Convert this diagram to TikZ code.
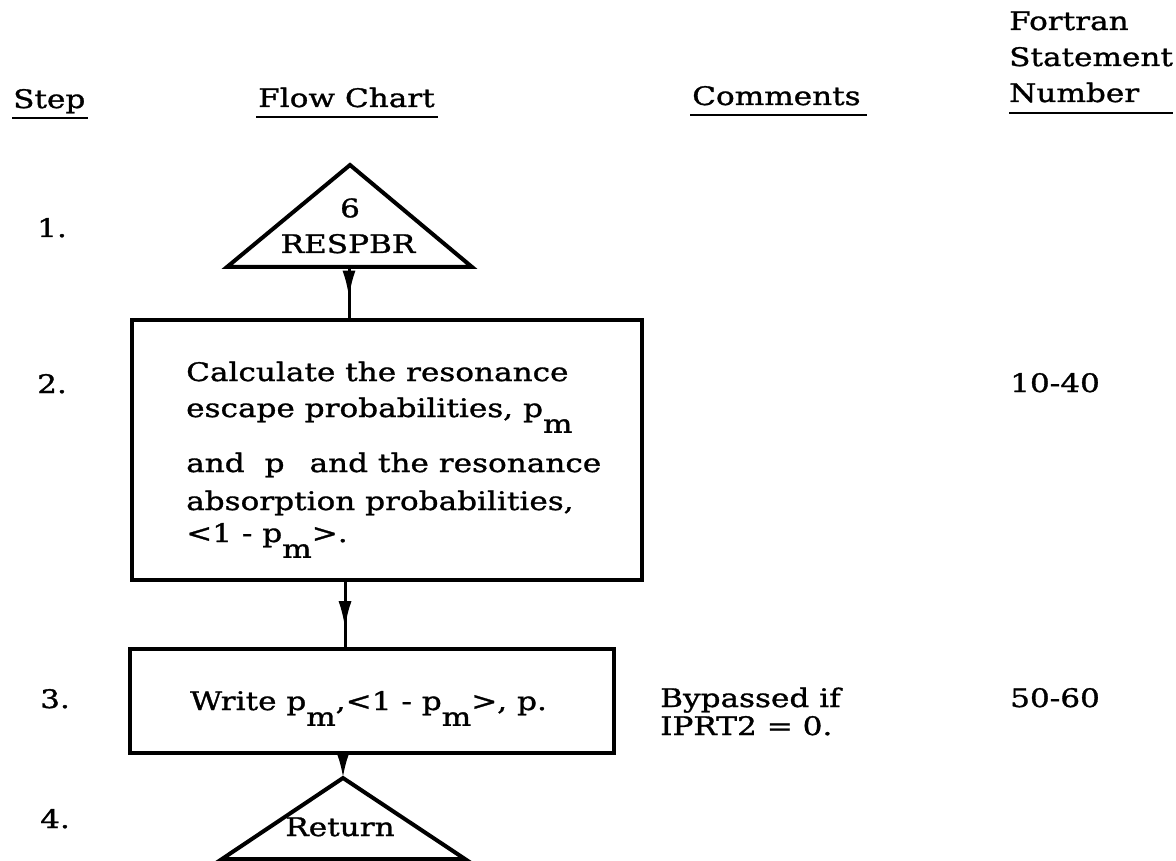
\documentclass[tikz,border=0pt]{standalone}
\usepackage{fontspec}
\setmainfont{DejaVu Serif}[FakeStretch=1.22,FakeBold=1.2]
\usetikzlibrary{arrows.meta,decorations.markings}

% subscript set low and at full size, as on the typewriter
\newcommand{\lowsub}[1]{\raisebox{-0.62em}{#1}}

\begin{document}
\begin{tikzpicture}[x=1pt,y=-1pt,
    every node/.style={inner sep=0pt, font=\fontsize{25.5}{30}\selectfont},
    heading/.style={anchor=base west},
    rowlabel/.style={anchor=base west},
    boxtext/.style={anchor=base west},
    note/.style={anchor=base west},
    process/.style={draw, line width=4pt, anchor=north west},
    rule/.style={line width=2.2pt},
    terminal/.style={line width=4pt, line join=miter},
    flow/.style={line width=3pt, postaction={decorate},
      decoration={markings, mark=at position #1 with {\arrow{Latex[length=27pt,width=13pt]}}}}
    ]
\useasboundingbox (0,0) rectangle (1176,861);

% Column headings
\node[heading] (hstep) at (13,108) {Step};
\node[heading] (hflow) at (258,107) {Flow Chart};
\node[heading] (hcom) at (692,105) {Comments};
\node[heading] (hfor) at (1009,30) {Fortran};
\node[heading] (hstat) at (1009,66) {Statement};
\node[heading] (hnum) at (1009,102) {Number};
\coordinate (numrule) at (1173,113);

\draw[rule] ([yshift=-10pt,xshift=-1pt]hstep.base west) -- ([yshift=-10pt,xshift=2pt]hstep.base east);
\draw[rule] ([yshift=-10pt,xshift=-2pt]hflow.base west) -- ([yshift=-10pt,xshift=3pt]hflow.base east);
\draw[rule] ([yshift=-10pt,xshift=-2pt]hcom.base west) -- ([yshift=-10pt,xshift=6pt]hcom.base east);
\draw[rule] (hnum.base west |- numrule) -- (numrule);

% Step numbers
\node[rowlabel] (s1) at (37,237) {1.};
\node[rowlabel] (s2) at (37,393) {2.};
\node[rowlabel] (s3) at (40,708) {3.};
\node[rowlabel] (s4) at (40,828) {4.};

% Entry
\draw[terminal] (350,165) -- (472,267) -- (227,267) -- cycle;
\coordinate (entry) at (349,267);
\node (six) at (350,208) {6};
\node[anchor=base] (name) at (348,253) {RESPBR};

% Calculation box
\node[process, minimum width=510pt, minimum height=260pt] (calc) at (130,318) {};
\node[boxtext] (l1) at (186,381) {Calculate the resonance};
\node[boxtext] (l2) at (186,417) {escape probabilities, p\lowsub{m}};
\node[boxtext] (l3) at (186,472) {and\hspace{20pt}p\hspace{25pt}and the resonance};
\node[boxtext] (l4) at (186,510) {absorption probabilities,};
\node[boxtext] (l5) at (186,542) {<1 - p\lowsub{m}>.};
\node[note] (n1) at (1010,392) {10-40};

\draw[flow=0.6] (entry) -- (entry |- calc.north);

% Output box
\node[process, minimum width=484pt, minimum height=104pt] (write) at (128,647) {};
\node[boxtext] (w1) at (190,710) {Write p\lowsub{m},<1 - p\lowsub{m}>, p.};
\node[note] (c1) at (660,707) {Bypassed if};
\node[note] (c2) at (660,735) {IPRT2 = 0.};
\node[note] (n2) at (1010,707) {50-60};

\coordinate (calcout) at (345,580);
\draw[flow=0.72] (calcout) -- (calcout |- write.north);

% Return
\coordinate (ret) at (343,778);
\draw[line width=3pt, -{Latex[length=24pt,width=12pt]}] (ret |- write.south) -- (ret);
\draw[terminal] (ret) -- (465,859) -- (222,859) -- cycle;
\node[anchor=base] (retlabel) at (340,836) {Return};

\end{tikzpicture}
\end{document}
